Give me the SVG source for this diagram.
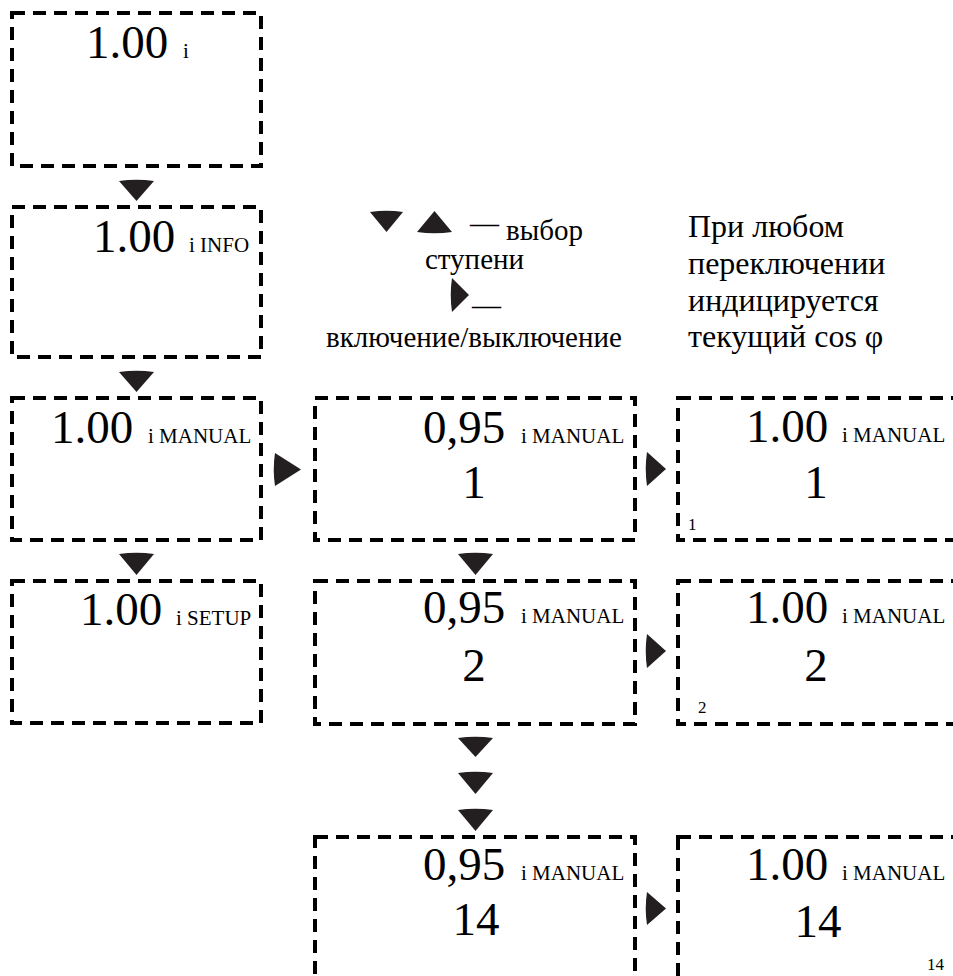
<svg xmlns="http://www.w3.org/2000/svg" width="953" height="976" viewBox="0 0 953 976" font-family="Liberation Serif, DejaVu Serif, serif">
<style>
.box{fill:none;stroke:#000;stroke-width:4;stroke-dasharray:13 8}
.arr{fill:#231f20}
text{font-family:'Liberation Serif','DejaVu Serif',serif;fill:#000}
.big{font-size:47px}
.sm{font-size:21px}
.tiny{font-size:17px}
.lg{font-size:29px}
.rt{font-size:32px}
</style>
<rect width="953" height="976" fill="#fff"/>
<g id="connectors">
<path class="arr" d="M119 181 Q136.5 178.5 154 181 L136.5 201 Z"/>
<path class="arr" d="M119 372 Q136.5 369.5 154 372 L136.5 392 Z"/>
<path class="arr" d="M119 554 Q136.5 551.5 154 554 L136.5 575 Z"/>
<path class="arr" d="M458 554 Q475.5 551.5 493 554 L475.5 575 Z"/>
<path class="arr" d="M458 738 Q475.5 735.5 493 738 L475.5 757 Z"/>
<path class="arr" d="M458 773 Q475.5 770.5 493 773 L475.5 794 Z"/>
<path class="arr" d="M458 810 Q475.5 807.5 493 810 L475.5 831 Z"/>
<path class="arr" d="M275 453 Q272.5 469.5 275 486 L301 469.5 Z"/>
<path class="arr" d="M647 452 Q644.5 469 647 486 L666 469 Z"/>
<path class="arr" d="M647 634 Q644.5 651 647 668 L666 651 Z"/>
<path class="arr" d="M647 892 Q644.5 908.5 647 925 L666 908.5 Z"/>
</g>
<g id="legend">
<path class="arr" d="M370 212 Q386.5 209.5 403 212 L386.5 232 Z"/>
<path class="arr" d="M417 232 Q434.5 234.5 452 232 L434.5 211 Z"/>
<path class="arr" d="M452 278 Q449.5 295 452 312 L469 295 Z"/>
<text class="lg" x="470" y="233">—</text>
<text class="lg" x="506" y="240">выбор</text>
<text class="lg" x="474.5" y="269" text-anchor="middle">ступени</text>
<text class="lg" x="472" y="315">—</text>
<text class="lg" x="326" y="347">включение/выключение</text>
</g>
<g id="note">
<text class="rt" x="688" y="237">При любом</text>
<text class="rt" x="688" y="274">переключении</text>
<text class="rt" x="688" y="311">индицируется</text>
<text class="rt" x="688" y="347">текущий cos φ</text>
</g>
<g id="main">
<rect class="box" x="12" y="13" width="249" height="153"/>
<text class="big" x="86" y="58">1.00</text>
<text class="sm" x="183" y="58">i</text>
</g>
<g id="info">
<rect class="box" x="12" y="207" width="249" height="150"/>
<text class="big" x="93" y="252">1.00</text>
<text class="sm" x="189" y="252">i INFO</text>
</g>
<g id="manual">
<rect class="box" x="12" y="398" width="249" height="142"/>
<text class="big" x="51" y="443">1.00</text>
<text class="sm" x="148" y="443">i MANUAL</text>
</g>
<g id="setup">
<rect class="box" x="12" y="581" width="249" height="142"/>
<text class="big" x="80" y="625">1.00</text>
<text class="sm" x="176" y="625">i SETUP</text>
</g>
<g id="step1">
<rect class="box" x="315" y="398" width="320" height="142"/>
<text class="big" x="423" y="443">0,95</text>
<text class="sm" x="521" y="443">i MANUAL</text>
<text class="big" x="474" y="498" text-anchor="middle">1</text>
</g>
<g id="step2">
<rect class="box" x="315" y="581" width="320" height="143"/>
<text class="big" x="423" y="623">0,95</text>
<text class="sm" x="521" y="623">i MANUAL</text>
<text class="big" x="474" y="681" text-anchor="middle">2</text>
</g>
<g id="step14">
<rect class="box" x="315" y="837" width="320" height="200"/>
<text class="big" x="423" y="880">0,95</text>
<text class="sm" x="521" y="880">i MANUAL</text>
<text class="big" x="476" y="935" text-anchor="middle">14</text>
</g>
<g id="on1">
<rect class="box" x="678" y="398" width="300" height="142"/>
<text class="big" x="746" y="442">1.00</text>
<text class="sm" x="842" y="442">i MANUAL</text>
<text class="big" x="816" y="498" text-anchor="middle">1</text>
<text class="tiny" x="688" y="530">1</text>
</g>
<g id="on2">
<rect class="box" x="678" y="581" width="300" height="143"/>
<text class="big" x="746" y="623">1.00</text>
<text class="sm" x="842" y="623">i MANUAL</text>
<text class="big" x="816" y="681" text-anchor="middle">2</text>
<text class="tiny" x="698" y="713">2</text>
</g>
<g id="on14">
<rect class="box" x="678" y="837" width="300" height="200"/>
<text class="big" x="746" y="880">1.00</text>
<text class="sm" x="842" y="880">i MANUAL</text>
<text class="big" x="818" y="937" text-anchor="middle">14</text>
<text class="tiny" x="927" y="970">14</text>
</g>
</svg>
